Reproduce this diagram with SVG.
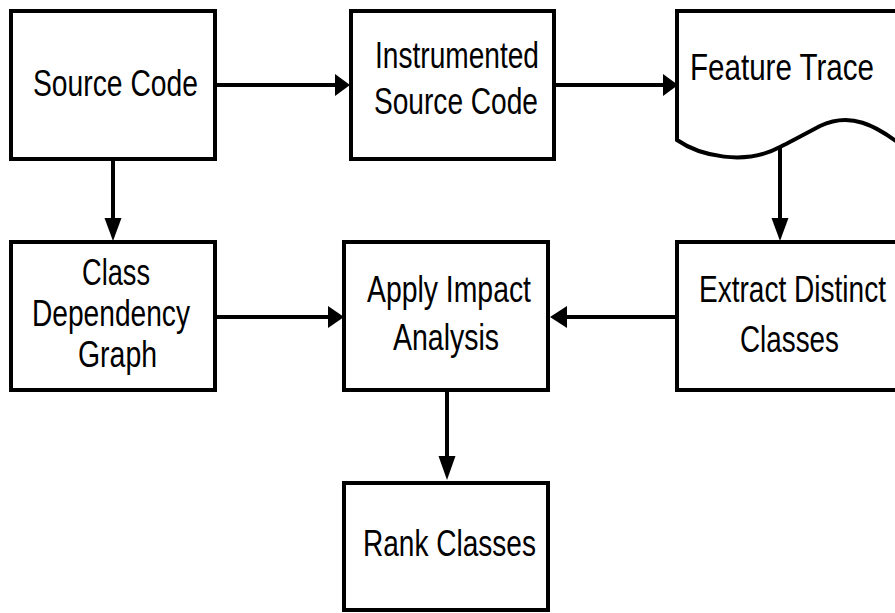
<svg xmlns="http://www.w3.org/2000/svg" width="895" height="613" viewBox="0 0 895 613">
<style>
.box{fill:#fff;stroke:#000;stroke-width:4;stroke-linejoin:miter}
.ln{fill:none;stroke:#000;stroke-width:4}
.hd{fill:#000;stroke:none}
text{font-family:"Liberation Sans Narrow","Arial Narrow","Liberation Sans",Arial,sans-serif;font-size:37px;fill:#000}
</style>
<rect width="895" height="613" fill="#fff"/>
<g id="connectors">
<line class="ln" x1="215" y1="85" x2="336" y2="85"/>
<polygon class="hd" points="335,74 350,85 335,96"/>
<line class="ln" x1="554" y1="85" x2="664" y2="85"/>
<polygon class="hd" points="663,74 678,85 663,96"/>
<line class="ln" x1="113" y1="159" x2="113" y2="220"/>
<polygon class="hd" points="104.5,218 121.5,218 113,241"/>
<line class="ln" x1="780" y1="147" x2="780" y2="220"/>
<polygon class="hd" points="771.5,218 788.5,218 780,241"/>
<line class="ln" x1="215" y1="317" x2="330" y2="317"/>
<polygon class="hd" points="328,306 344,317 328,328"/>
<line class="ln" x1="677" y1="317" x2="566" y2="317"/>
<polygon class="hd" points="567,306 550,317 567,328"/>
<line class="ln" x1="447" y1="390" x2="447" y2="458"/>
<polygon class="hd" points="438.5,456 455.5,456 447,480"/>
</g>
<g id="source-code">
<rect class="box" x="11" y="11" width="204" height="148"/>
<text x="33" y="96" textLength="165" lengthAdjust="spacingAndGlyphs">Source Code</text>
</g>
<g id="instrumented-source-code">
<rect class="box" x="351" y="11" width="203" height="148"/>
<text x="375" y="68" textLength="164" lengthAdjust="spacingAndGlyphs">Instrumented</text>
<text x="374" y="114" textLength="164" lengthAdjust="spacingAndGlyphs">Source Code</text>
</g>
<g id="feature-trace">
<path class="box" d="M677,140 V11 H905 V148 C875,124 850,112 820,126 C805,134 792,141 780,147 C745,166 700,156 677,140 Z"/>
<text x="690" y="80" textLength="184" lengthAdjust="spacingAndGlyphs">Feature Trace</text>
</g>
<g id="class-dependency-graph">
<rect class="box" x="11" y="242" width="204" height="148"/>
<text x="82" y="285" textLength="68" lengthAdjust="spacingAndGlyphs">Class</text>
<text x="32" y="326" textLength="158" lengthAdjust="spacingAndGlyphs">Dependency</text>
<text x="78" y="367" textLength="79" lengthAdjust="spacingAndGlyphs">Graph</text>
</g>
<g id="apply-impact-analysis">
<rect class="box" x="344" y="242" width="204" height="148"/>
<text x="367" y="302" textLength="164" lengthAdjust="spacingAndGlyphs">Apply Impact</text>
<text x="393" y="350" textLength="106" lengthAdjust="spacingAndGlyphs">Analysis</text>
</g>
<g id="extract-distinct-classes">
<rect class="box" x="677" y="242" width="240" height="148"/>
<text x="699" y="302" textLength="187" lengthAdjust="spacingAndGlyphs">Extract Distinct</text>
<text x="740" y="352" textLength="99" lengthAdjust="spacingAndGlyphs">Classes</text>
</g>
<g id="rank-classes">
<rect class="box" x="344" y="483" width="204" height="127"/>
<text x="363" y="556" textLength="173" lengthAdjust="spacingAndGlyphs">Rank Classes</text>
</g>
</svg>
